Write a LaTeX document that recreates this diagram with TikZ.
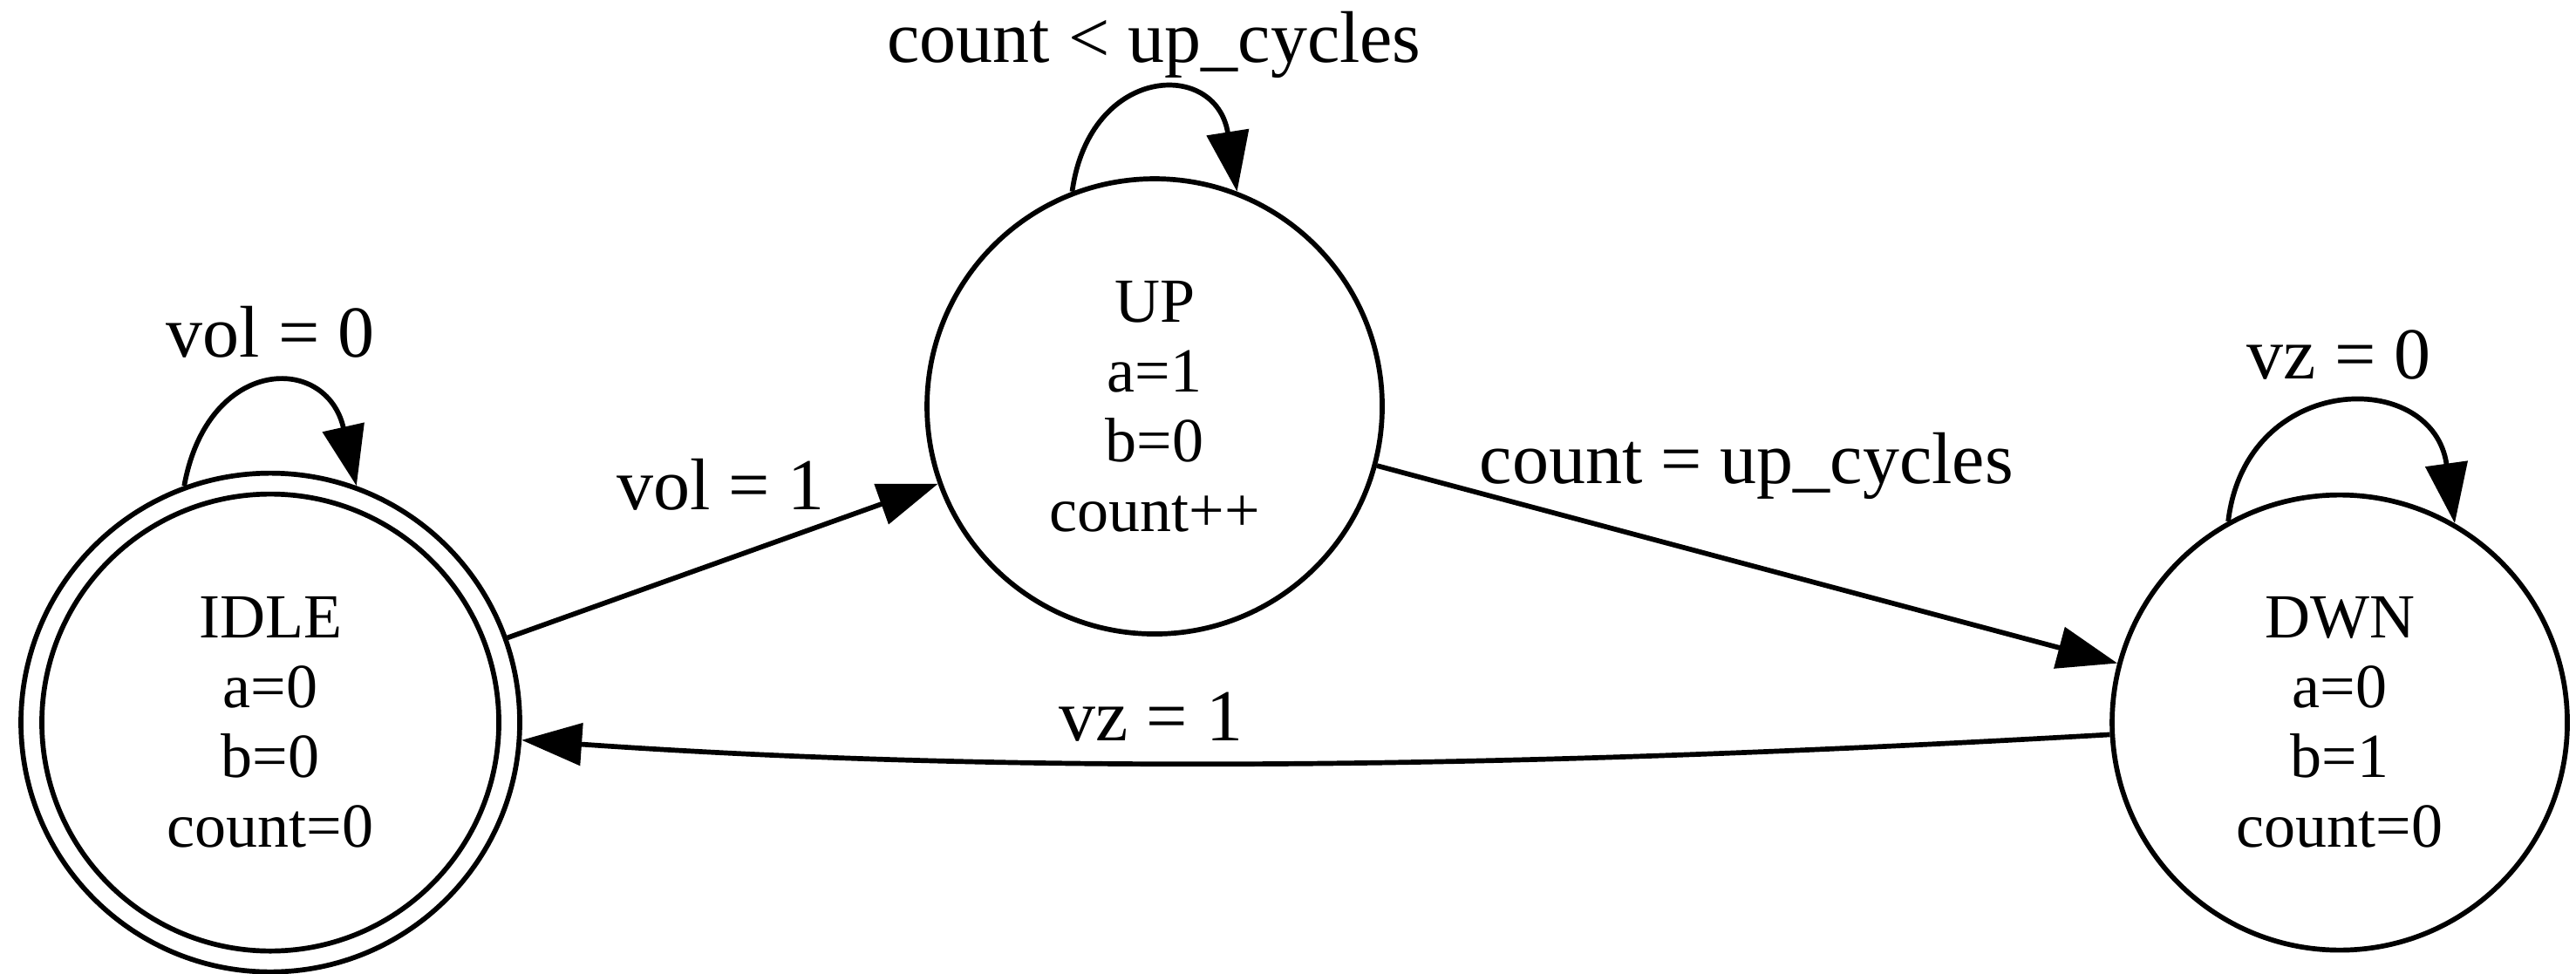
\documentclass[tikz,border=0pt]{standalone}
\usepackage{fontspec}
\setmainfont{Liberation Serif}
\usetikzlibrary{arrows.meta}

\begin{document}
\begin{tikzpicture}[x=1pt,y=1pt,line width=0.95pt,>={Triangle[length=11.5pt,width=8pt]},
  state/.style={draw,circle,inner sep=0pt,minimum size=87pt,align=center,font=\fontsize{12}{13.33}\selectfont},
  lbl/.style={anchor=base,inner sep=0pt,font=\fontsize{14}{16}\selectfont}]
\useasboundingbox (0,0) rectangle (492.33,186);
% states
\node[state,minimum size=95.33pt] (idle) at (51.67,47.9) {IDLE\\a=0~\\b=0\\count=0};
\draw (idle.center) circle[radius=43.67];
\node[state] (up) at (220.67,108.33) {UP\\a=1~\\b=0\\count++};
\node[state] (dwn) at (447.17,47.9) {DWN\\a=0\\b=1\\count=0};
% transitions
\draw[->] (idle) -- (up);
\draw[->] (up) -- (dwn);
\draw[->] (dwn.183) .. controls (300,39.67) and (201.5,37.42) .. (idle.-4);
\draw[->] (idle.110) .. controls +(4.5,24.85) and +(-5.7,25.35) .. (idle.70);
\draw[->] (up.111) .. controls +(3.33,24.2) and +(-4,25.4) .. (up.69);
\draw[->] (dwn.119) .. controls +(3.43,28.7) and +(-4.15,29.8) .. (dwn.60);
% guards
\node[lbl] (vol0) at (51.67,117.78) {vol = 0};
\node[lbl] (vol1) at (137.75,88.67) {vol = 1};
\node[lbl] (cntlt) at (220.6,174.05) {count < up\_cycles};
\node[lbl] (cnteq) at (333.8,93.63) {count = up\_cycles};
\node[lbl] (vz0) at (447,113.67) {vz = 0};
\node[lbl] (vz1) at (219.95,44.5) {vz = 1};
\end{tikzpicture}
\end{document}
